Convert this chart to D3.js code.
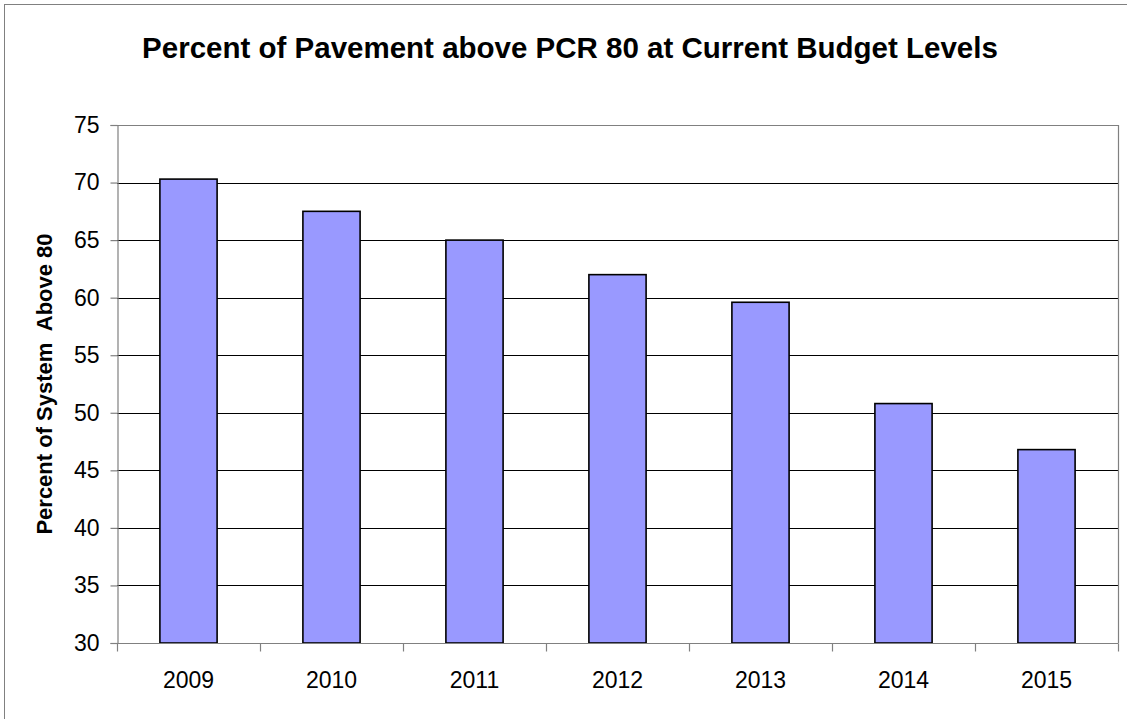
<!DOCTYPE html>
<html>
<head>
<meta charset="utf-8">
<script src="https://cdn.jsdelivr.net/npm/d3@7"></script>
<style>
  html, body { margin: 0; padding: 0; background: #fff; }
  svg { display: block; font-family: "Liberation Sans", Arial, sans-serif; }
</style>
</head>
<body>
<svg id="chart" width="1127" height="719"></svg>
<script>
// Percent of system with PCR above 80, by year
const years = ["2009", "2010", "2011", "2012", "2013", "2014", "2015"];
const percentAbove80 = [70.3, 67.5, 65.0, 62.0, 59.6, 50.8, 46.8];
const yTickValues = [30, 35, 40, 45, 50, 55, 60, 65, 70, 75];

const titleText = "Percent of Pavement above PCR 80 at Current Budget Levels";
const yAxisTitle = "Percent of System  Above 80";

const svg = d3.select("#chart");
const W = 1127, H = 719;
const plot = { left: 117, top: 125, right: 1118, bottom: 643 };

// Outer chart frame
svg.append("rect")
  .attr("x", 4.5).attr("y", 4.5)
  .attr("width", W + 20).attr("height", H + 20)
  .attr("fill", "#fff").attr("stroke", "#808080").attr("stroke-width", 1);

const x = d3.scaleBand()
  .domain(years)
  .range([plot.left, plot.right])
  .paddingInner(0.6)
  .paddingOuter(0.3);

const xBand = d3.scaleBand().domain(years).range([plot.left, plot.right]);

const y = d3.scaleLinear().domain([30, 75]).range([plot.bottom, plot.top]);

// Horizontal gridlines
svg.append("g")
  .selectAll("line")
  .data(yTickValues.filter(v => v > 30 && v < 75))
  .join("line")
  .attr("x1", plot.left).attr("x2", plot.right)
  .attr("y1", d => Math.round(y(d)) + 0.5)
  .attr("y2", d => Math.round(y(d)) + 0.5)
  .attr("stroke", "#000").attr("stroke-width", 1);

// Plot area border (top and right)
svg.append("path")
  .attr("d", `M${plot.left},${plot.top + 0.5}H${plot.right + 0.5}V${plot.bottom}`)
  .attr("fill", "none").attr("stroke", "#808080").attr("stroke-width", 1.2);

// Bars
svg.append("g")
  .selectAll("rect")
  .data(years.map((yr, i) => ({ yr, v: percentAbove80[i] })))
  .join("rect")
  .attr("x", d => x(d.yr))
  .attr("y", d => y(d.v))
  .attr("width", x.bandwidth())
  .attr("height", d => y(30) - y(d.v))
  .attr("fill", "#9999FF")
  .attr("stroke", "#000")
  .attr("stroke-width", 1.6);

// Y axis
const yAxis = d3.axisLeft(y).tickValues(yTickValues).tickSize(7).tickPadding(11);
const gy = svg.append("g")
  .attr("transform", `translate(${plot.left + 0.5},0)`)
  .call(yAxis);
gy.select(".domain").attr("stroke", "#808080").attr("stroke-width", 1.2);
gy.selectAll(".tick line").attr("stroke", "#808080").attr("stroke-width", 1.2);
gy.selectAll(".tick text")
  .attr("font-size", 23).attr("fill", "#000")
  .attr("font-family", "Liberation Sans, Arial, sans-serif");

// X axis: ticks fall on category boundaries
const gx = svg.append("g")
  .attr("transform", `translate(0,${plot.bottom + 0.5})`);
gx.append("line")
  .attr("x1", plot.left).attr("x2", plot.right + 0.5)
  .attr("stroke", "#808080").attr("stroke-width", 1.2);
const boundaries = years.map(d => xBand(d)).concat([plot.right]);
gx.selectAll("line.tick")
  .data(boundaries)
  .join("line")
  .attr("class", "tick")
  .attr("x1", d => Math.round(d) + 0.5).attr("x2", d => Math.round(d) + 0.5)
  .attr("y1", 0).attr("y2", 8)
  .attr("stroke", "#808080").attr("stroke-width", 1.2);
gx.selectAll("text")
  .data(years)
  .join("text")
  .attr("x", d => xBand(d) + xBand.bandwidth() / 2)
  .attr("y", 44)
  .attr("text-anchor", "middle")
  .attr("font-size", 23)
  .attr("fill", "#000")
  .text(d => d);

// Chart title
svg.append("text")
  .attr("x", 570).attr("y", 58)
  .attr("text-anchor", "middle")
  .attr("font-size", 29.5)
  .attr("font-weight", "bold")
  .attr("fill", "#000")
  .text(titleText);

// Y axis title
svg.append("text")
  .attr("transform", `translate(52,${(plot.top + plot.bottom) / 2}) rotate(-90)`)
  .attr("text-anchor", "middle")
  .attr("font-size", 22)
  .attr("font-weight", "bold")
  .attr("fill", "#000")
  .style("white-space", "pre")
  .text(yAxisTitle);
</script>
</body>
</html>
